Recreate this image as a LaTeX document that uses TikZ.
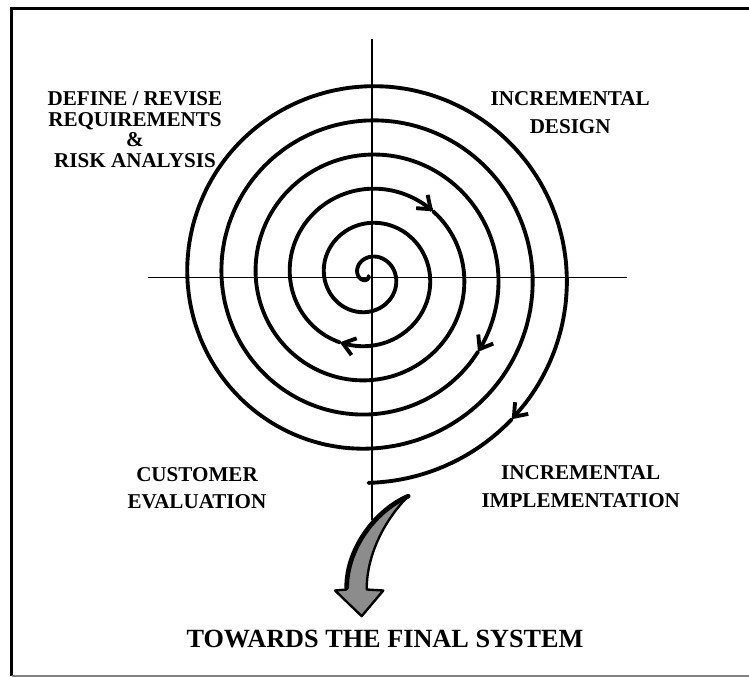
\documentclass[tikz,border=0pt]{standalone}
\usepackage{fontspec}
\setmainfont{Liberation Serif}
\usetikzlibrary{arrows.meta}

% one piece of the spiral, angle \t in degrees
\newcommand{\spiralpart}[3][]{%
  \draw [coil, #1] plot [domain=#2:#3, samples=120, smooth, variable=\t]
    ({-3.2+0.095*\t*cos(647.4-\t)}, {1.5+0.095*\t*sin(647.4-\t)});}

\begin{document}
\begin{tikzpicture}[x=0.03cm, y=0.03cm,
phase/.style = {font=\fontsize{18}{23.3}\selectfont\bfseries, align=center, inner sep=0pt},
coil/.style = {line width=3.3pt, line cap=round},
axis/.style = {line width=1.6pt},
turn/.style = {-{Straight Barb[length=10pt,width=15pt]}}]
\useasboundingbox (-371.7,-399.5) rectangle (377.3,277.5);

% frame
\draw [line width=2.8pt] (377.3,269) -- (-360,269) -- (-360,-398.5);
\draw [line width=1pt, gray] (-360,-398.5) -- (377.3,-398.5);

% axes
\draw [axis] (0,238) -- (0,-242.5);
\draw [axis] (-223.7,0) -- (255.6,0);

% spiral, clockwise outwards
\spiralpart[turn]{0}{760.8}
\spiralpart[turn]{760.8}{962.4}
\spiralpart[turn]{962.4}{1402.1}
\spiralpart[turn]{1402.1}{2132.4}
\spiralpart{2132.4}{2177.4}

% big arrow out of the spiral
\draw [line width=2pt, line join=round, fill=black!45]
  (36.6,-218.7) .. controls (15,-240) and (-5,-275) .. (-5,-312)
  -- (11.6,-313) -- (-10,-338.7) -- (-36.7,-313) -- (-25,-312)
  .. controls (-25,-270) and (5,-232) .. (36.6,-218.7) -- cycle;
\draw [line width=4pt, line cap=round]
  (-25,-310) .. controls (-25,-270) and (5,-232) .. (36.6,-218.7);

\node [phase, font=\fontsize{18}{17.5}\selectfont\bfseries] at (-236.7,147.8) (req)
  {DEFINE / REVISE\\REQUIREMENTS\\\&\\RISK ANALYSIS};
\node [phase] at (198.5,165) (design) {INCREMENTAL\\DESIGN};
\node [phase] at (-174.7,-210.8) (eval) {CUSTOMER\\EVALUATION};
\node [phase] at (209,-209.2) (impl) {INCREMENTAL\\IMPLEMENTATION};
\node [phase, font=\fontsize{22.4}{24}\selectfont\bfseries] at (13.3,-361.5) (goal)
  {TOWARDS THE FINAL SYSTEM};

\end{tikzpicture}
\end{document}
